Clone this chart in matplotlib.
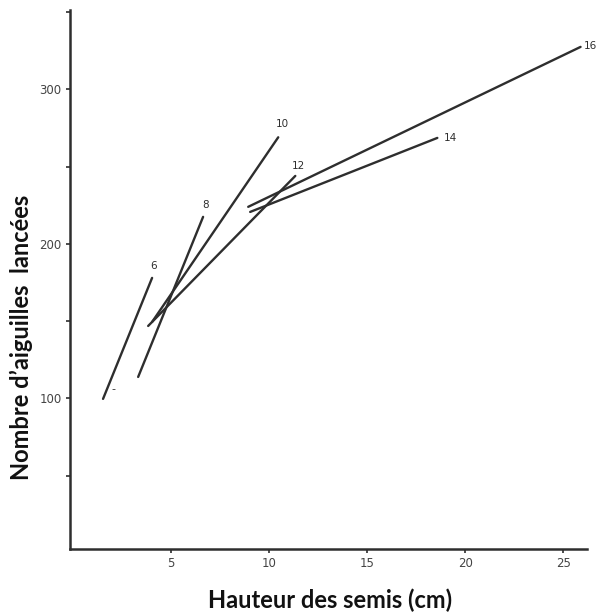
import matplotlib
matplotlib.use('Agg')
import matplotlib.pyplot as plt

# seedling height (cm) vs number of needles, one segment per age class
line_labels = ['6', '8', '10', '12', '14', '16']
x_start = [1.53, 3.32, 4.03, 3.83, 9.03, 8.93]
y_start = [99.7, 113.9, 149.5, 146.9, 220.7, 224.0]
x_end = [4.03, 6.63, 10.46, 11.33, 18.57, 25.87]
y_end = [178.0, 217.5, 269.0, 244.0, 268.6, 327.5]

x_ticks = [5, 10, 15, 20, 25]
y_ticks = [50, 100, 150, 200, 250, 300, 350]
y_ticklabels = ['', '100', '', '200', '', '300', '']

INK = '#2e2e2e'
label_offsets = [(1, 7), (2, 7), (4, 8), (3, 5), (6, 0), (3, 1)]

fig = plt.figure(figsize=(5.99, 6.14), dpi=100)
ax = fig.add_axes([0.117, 0.106, 0.863, 0.878])

for lab, xs, ys, xe, ye, off in zip(line_labels, x_start, y_start, x_end, y_end, label_offsets):
    ax.plot([xs, xe], [ys, ye], color=INK, lw=1.7, solid_capstyle='round')
    ax.annotate(lab, xy=(xe, ye), xytext=off, textcoords='offset pixels',
                ha='left' if off[0] > 5 or off[1] < 3 else 'center',
                va='bottom' if off[1] > 3 else 'center',
                fontsize=7.5, color=INK, annotation_clip=False)

# small mark near the lower end of the first segment
ax.annotate('-', xy=(x_start[0], y_start[0]), xytext=(10, 10), textcoords='offset pixels',
            ha='center', va='center', fontsize=8, color=INK)

ax.set_xlim(-0.15, 26.2)
ax.set_ylim(2.6, 351.5)
ax.set_xticks(x_ticks)
ax.set_yticks(y_ticks)
ax.set_yticklabels(y_ticklabels)
ax.tick_params(axis='both', direction='out', length=3, width=1.2, color=INK,
               labelsize=8.5, labelcolor='#444444', pad=3)

for s in ['top', 'right']:
    ax.spines[s].set_visible(False)
for s in ['left', 'bottom']:
    ax.spines[s].set_linewidth(1.8)
    ax.spines[s].set_color(INK)

ax.set_xlabel('Hauteur des semis (cm)', fontsize=17, fontweight='bold',
              family=['Lato', 'DejaVu Sans'], color='#111111')
ax.xaxis.set_label_coords(0.503, -0.074)
ax.set_ylabel('Nombre d\u2019aiguilles  lancées', fontsize=17, fontweight='bold',
              family=['Lato', 'DejaVu Sans'], color='#111111')
ax.yaxis.set_label_coords(-0.072, 0.393)

fig.savefig('out.png', dpi=100)
